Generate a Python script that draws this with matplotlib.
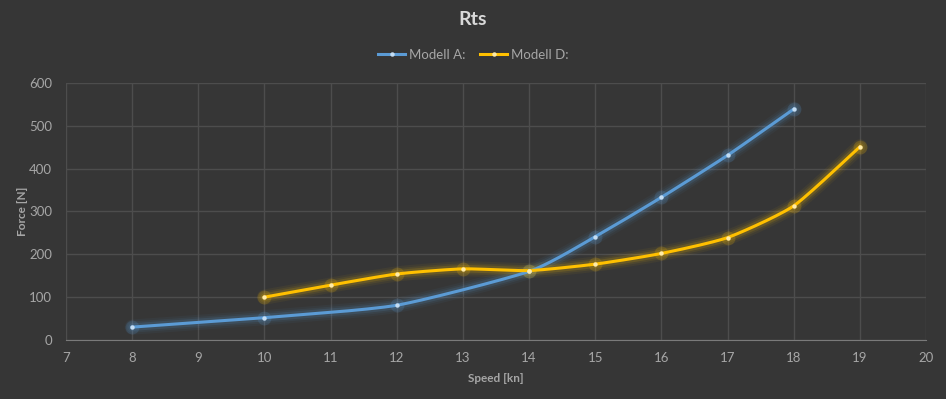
import matplotlib
matplotlib.use("Agg")
import matplotlib.pyplot as plt
import numpy as np

speed_a = [8, 10, 12, 14, 15, 16, 17, 18]
force_a = [30, 52, 81, 160, 241, 333, 431, 539]
speed_d = [10, 11, 12, 13, 14, 15, 16, 17, 18, 19]
force_d = [100, 128, 154, 166, 162, 177, 202, 239, 313, 451]
labels = ["Modell A:", "Modell D:"]
colors = ["#5B9BD5", "#FFC000"]
dot_colors = ["#C4DDF3", "#FFEBA8"]

BG = "#363636"
GRID = "#4d4d4d"
TXT = "#a6a6a6"

plt.rcParams["font.family"] = ["Lato", "DejaVu Sans"]


def smooth(x, y, n=24, k=0.6):
    # cardinal spline through the points, a bit tighter than Catmull-Rom
    x = np.asarray(x, float)
    y = np.asarray(y, float)
    px = np.concatenate([[x[0]], x, [x[-1]]])
    py = np.concatenate([[y[0]], y, [y[-1]]])
    t = np.linspace(0, 1, n)
    h00 = 2 * t**3 - 3 * t**2 + 1
    h10 = t**3 - 2 * t**2 + t
    h01 = -2 * t**3 + 3 * t**2
    h11 = t**3 - t**2
    xs, ys = [], []
    for i in range(1, len(px) - 2):
        for p, out in ((px, xs), (py, ys)):
            m1 = k * (p[i + 1] - p[i - 1]) / 2
            m2 = k * (p[i + 2] - p[i]) / 2
            out.append(h00 * p[i] + h10 * m1 + h01 * p[i + 1] + h11 * m2)
    return np.concatenate(xs), np.concatenate(ys)


fig = plt.figure(figsize=(9.46, 3.99), dpi=100, facecolor=BG)
ax = fig.add_axes([0.0698, 0.148, 0.909, 0.644], facecolor=BG)

series = [(speed_a, force_a), (speed_d, force_d)]
handles = []
for (xs, ys), lab, c, dc in zip(series, labels, colors, dot_colors):
    sx, sy = smooth(xs, ys)
    for lw, a in ((11, 0.05), (8, 0.08), (5.5, 0.14)):
        ax.plot(sx, sy, color=c, lw=lw, alpha=a, solid_capstyle="round", zorder=3)
    ax.plot(xs, ys, "o", color=c, ms=10, alpha=0.18, mec="none", zorder=3)
    ax.plot(sx, sy, color=c, lw=2.2, zorder=4)
    ax.plot(xs, ys, "o", color=dc, ms=3.2, mec="none", zorder=5)
    h, = ax.plot([], [], color=c, lw=2.2, marker="o", ms=3.2, mfc=dc, mec="none", label=lab)
    handles.append(h)

ax.set_xlim(7, 20)
ax.set_ylim(0, 600)
ax.set_xticks(np.arange(7, 21, 1))
ax.set_yticks(np.arange(0, 601, 100))
ax.grid(True, color=GRID, lw=1)
ax.set_axisbelow(True)
for s in ("top", "right", "left"):
    ax.spines[s].set_visible(False)
ax.spines["bottom"].set_color("#7a7a7a")
ax.tick_params(length=0, colors=TXT, labelsize=9.5, pad=9)
ax.tick_params(axis="y", pad=10)

ax.set_xlabel("Speed [kn]", color=TXT, fontsize=8.5, fontweight="bold", labelpad=6)
ax.set_ylabel("Force [N]", color=TXT, fontsize=8.5, fontweight="bold", labelpad=1)

fig.text(0.5, 0.95, "Rts", ha="center", va="center", color="#d9d9d9",
         fontsize=14, fontweight="bold")
fig.legend(handles=handles, loc="center", bbox_to_anchor=(0.5, 0.862), ncol=2,
           frameon=False, fontsize=9.5, labelcolor=TXT, handlelength=2.1,
           handletextpad=0.25, columnspacing=1.1, numpoints=1)

fig.savefig("out.png", dpi=100, facecolor=BG)
